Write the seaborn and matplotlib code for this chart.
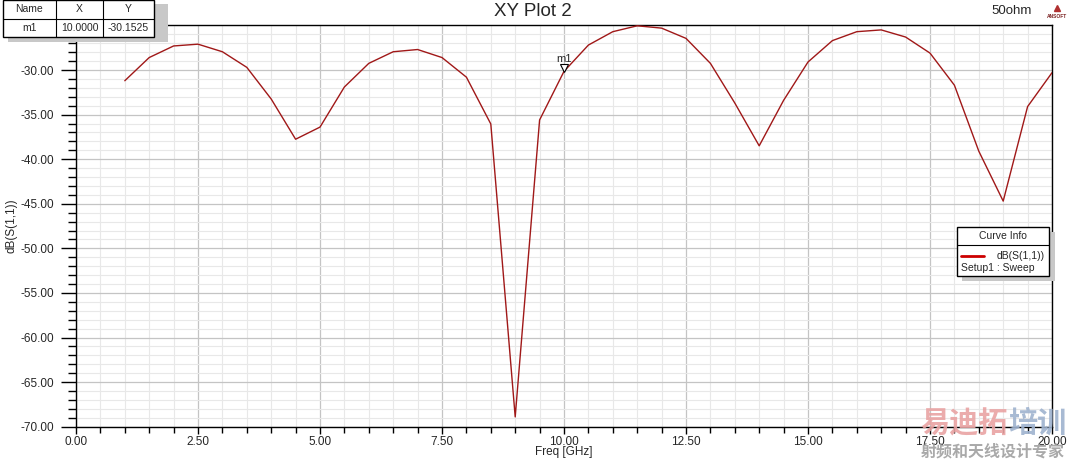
import matplotlib
matplotlib.use("Agg")
import matplotlib.pyplot as plt
import seaborn as sns
import pandas as pd
from matplotlib.patches import Rectangle
from matplotlib.lines import Line2D
from matplotlib.ticker import MultipleLocator

# data
freq = [1.0, 1.5, 2.0, 2.5, 3.0, 3.5, 4.0, 4.5, 5.0, 5.5, 6.0, 6.5, 7.0, 7.5,
        8.0, 8.5, 9.0, 9.5, 10.0, 10.5, 11.0, 11.5, 12.0, 12.5, 13.0, 13.5,
        14.0, 14.5, 15.0, 15.5, 16.0, 16.5, 17.0, 17.5, 18.0, 18.5, 19.0,
        19.5, 20.0]
s11_db = [-31.2, -28.6, -27.3, -27.1, -27.95, -29.7, -33.25, -37.76, -36.4,
          -31.9, -29.25, -27.95, -27.7, -28.6, -30.8, -36.05, -68.9, -35.6,
          -30.15, -27.2, -25.7, -25.04, -25.3, -26.45, -29.25, -33.7, -38.5,
          -33.4, -29.1, -26.7, -25.7, -25.5, -26.3, -28.1, -31.7, -39.1,
          -44.7, -34.1, -30.3]
marker_x = 10.0
marker_y = -30.1525
y_ticks = [-70, -65, -60, -55, -50, -45, -40, -35, -30]
x_ticks = [0, 2.5, 5, 7.5, 10, 12.5, 15, 17.5, 20]

df = pd.DataFrame({"Freq [GHz]": freq, "dB(S(1,1))": s11_db})

sns.set_style("white")
plt.rcParams["font.family"] = ["Liberation Sans", "DejaVu Sans"]

W, H = 1071, 462
fig = plt.figure(figsize=(W / 100, H / 100), dpi=100)


def fx(x):
    return x / W


def fy(y):
    return 1 - y / H


ax = fig.add_axes([fx(76), fy(426.7), fx(1052) - fx(76), fy(25) - fy(426.7)])

ax.xaxis.set_minor_locator(MultipleLocator(0.5))
ax.yaxis.set_minor_locator(MultipleLocator(1))
ax.grid(which="major", color="#c4c4c4", linewidth=0.9)
ax.grid(which="minor", color="#e8e8e8", linewidth=0.8)
ax.set_axisbelow(True)

sns.lineplot(data=df, x="Freq [GHz]", y="dB(S(1,1))", ax=ax, color="#a01818",
             linewidth=1.0, zorder=3)

ax.set_xlim(0, 20)
ax.set_ylim(-70, -24.95)
ax.set_xticks(x_ticks)
ax.set_yticks(y_ticks)
ax.set_xticklabels([f"{v:.2f}" for v in x_ticks])
ax.set_yticklabels([f"{v:.2f}" for v in y_ticks])
ax.tick_params(axis="x", which="major", direction="out", length=5, width=1,
               labelsize=8.5, color="black", bottom=True, pad=1.5)
ax.tick_params(axis="x", which="minor", direction="out", length=4, width=1,
               color="black", bottom=True)
ax.tick_params(axis="y", which="major", direction="out", length=11, width=1,
               labelsize=8.5, color="black", left=True, pad=5)
ax.tick_params(axis="y", which="minor", direction="out", length=6, width=1,
               color="black", left=True)
for sp in ax.spines.values():
    sp.set_color("black")
    sp.set_linewidth(1)
ax.set_xlabel("")
ax.set_ylabel("dB(S(1,1))", fontsize=8.5, labelpad=2)
fig.text(fx(564), fy(452), "Freq [GHz]", fontsize=8.5, ha="center",
         va="center")

# marker m1
ax.plot([marker_x], [marker_y + 0.35], marker="v", markersize=6,
        markerfacecolor="white", markeredgecolor="black", markeredgewidth=0.8,
        zorder=4)
ax.text(marker_x, marker_y + 0.8, "m1", fontsize=8, ha="center", va="bottom",
        zorder=4)

# title and header
fig.text(fx(533), fy(11), "XY Plot 2", fontsize=13.5, ha="center", va="center")
fig.text(fx(1012), fy(11), "50ohm", fontsize=9.5, ha="center", va="center")
fig.text(fx(1057), fy(16), "ANSOFT", fontsize=3.5, ha="center", va="center",
         color="#7a2020", fontweight="bold")
fig.add_artist(Line2D([fx(1057)], [fy(8)], marker="^", markersize=5,
                      color="#b03030", transform=fig.transFigure))

# marker table
fig.add_artist(Rectangle((fx(8), fy(42)), fx(168) - fx(8), fy(4) - fy(42),
                         transform=fig.transFigure, facecolor="#c8c8c8",
                         edgecolor="none", zorder=5))
fig.add_artist(Rectangle((fx(3), fy(37)), fx(154) - fx(3), fy(0) - fy(37),
                         transform=fig.transFigure, facecolor="white",
                         edgecolor="black", linewidth=1, zorder=6))
for xv in [56, 103]:
    fig.add_artist(Line2D([fx(xv), fx(xv)], [fy(0), fy(37)], color="black",
                          linewidth=0.8, transform=fig.transFigure, zorder=7))
fig.add_artist(Line2D([fx(3), fx(154)], [fy(18.5), fy(18.5)], color="black",
                      linewidth=0.8, transform=fig.transFigure, zorder=7))
cells = [("Name", 29.5, 9.5), ("X", 79.5, 9.5), ("Y", 128.5, 9.5),
         ("m1", 29.5, 28), ("10.0000", 79.5, 28), ("-30.1525", 128.5, 28)]
for txt, cx, cy in cells:
    fig.text(fx(cx), fy(cy), txt, fontsize=7.5, ha="center", va="center",
             zorder=8)

# curve info legend
fig.add_artist(Rectangle((fx(962), fy(281)), fx(1055) - fx(962),
                         fy(232) - fy(281), transform=fig.transFigure,
                         facecolor="#c8c8c8", edgecolor="none", zorder=5))
fig.add_artist(Rectangle((fx(957), fy(276)), fx(1049) - fx(957),
                         fy(227) - fy(276), transform=fig.transFigure,
                         facecolor="white", edgecolor="black", linewidth=1,
                         zorder=6))
fig.add_artist(Line2D([fx(957), fx(1049)], [fy(245), fy(245)], color="black",
                      linewidth=0.8, transform=fig.transFigure, zorder=7))
fig.text(fx(1003), fy(236), "Curve Info", fontsize=7.5, ha="center",
         va="center", zorder=8)
fig.add_artist(Line2D([fx(961), fx(984)], [fy(256), fy(256)], color="#cc0000",
                      linewidth=2, transform=fig.transFigure, zorder=8))
fig.text(fx(1045), fy(256), "dB(S(1,1))", fontsize=7.5, ha="right",
         va="center", zorder=8)
fig.text(fx(961), fy(268), "Setup1 : Sweep", fontsize=7.5, ha="left",
         va="center", zorder=8)

# watermark
cjk = ["Noto Sans CJK SC", "DejaVu Sans"]
fig.text(fx(920), fy(423), "易迪拓", fontsize=21, fontweight="heavy",
         color="#e9a3a3", ha="left", va="center", family=cjk, alpha=0.9,
         zorder=9)
fig.text(fx(1008), fy(423), "培训", fontsize=21, fontweight="heavy",
         color="#9fb3cf", ha="left", va="center", family=cjk, alpha=0.9,
         zorder=9)
fig.text(fx(993), fy(451), "射频和天线设计专家", fontsize=11.5, color="#a0a0a0",
         fontweight="bold", ha="center", va="center", family=cjk, alpha=0.9,
         zorder=9)

fig.savefig("out.png", dpi=100)
